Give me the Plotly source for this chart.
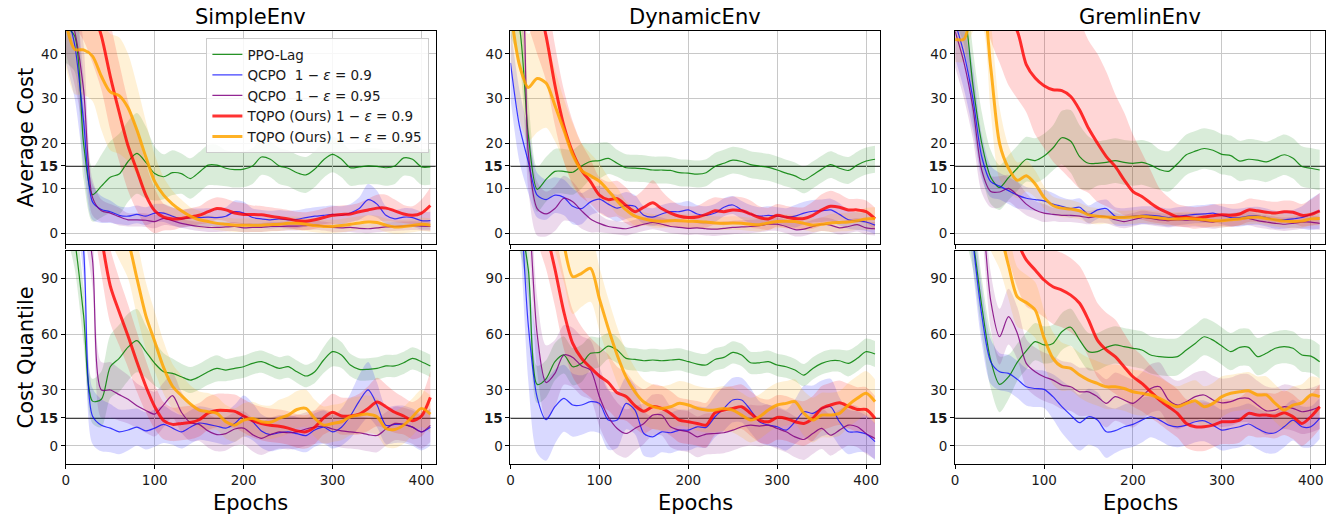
import plotly.graph_objects as go

# ---------------- data ----------------
EPOCHS = list(range(0, 411, 10))
SERIES_NAMES = [
    "PPO-Lag",
    "QCPO\u00a0\u00a01 − <i>ε</i> = 0.9",
    "QCPO\u00a0\u00a01 − <i>ε</i> = 0.95",
    "TQPO (Ours) 1 − <i>ε</i> = 0.9",
    "TQPO (Ours) 1 − <i>ε</i> = 0.95",
]
ENV_TITLES = ["SimpleEnv", "DynamicEnv", "GremlinEnv"]
ROW_TITLES = ["Average Cost", "Cost Quantile"]
THRESHOLD = 15
AVG_TICKS = [0, 10, 15, 20, 30, 40]
Q_TICKS = [0, 15, 30, 60, 90]
X_TICKS = [0, 100, 200, 300, 400]

# --- SimpleEnv, Average Cost ---
SIMPLE_AVG_PPO = [46, 44, 20, 8.6, 10.5, 12.5, 13.2, 16, 17.8, 15.8, 13.3, 12.6, 13.5, 13.3, 12.2, 13.6, 15.2, 15.2, 14.5, 14.2, 14.3, 15, 17, 16.5, 15, 14.5, 13.5, 13, 14.3, 16.4, 17.6, 16.5, 14.6, 14.8, 15, 14.9, 14.6, 15, 16.8, 16.5, 14.8, 14.8]
SIMPLE_AVG_Q90 = [50, 42, 25, 7, 5.3, 4.8, 4.0, 3.8, 4.2, 3.8, 4.5, 4.5, 3.8, 3.2, 3.5, 3.5, 3.6, 3.5, 3.8, 4.8, 4.5, 3.5, 3.2, 3.0, 3.2, 3.0, 3.1, 3.5, 3.8, 4.0, 4.2, 4.0, 4.5, 5.5, 7.5, 6.5, 4.0, 3.2, 3.6, 3.5, 2.8, 2.8]
SIMPLE_AVG_Q95 = [52, 45, 32, 8, 5.0, 4.5, 3.7, 3.0, 3.0, 2.9, 2.6, 3.3, 2.8, 2.2, 1.8, 1.5, 1.3, 1.3, 1.4, 1.5, 1.2, 1.3, 1.3, 1.5, 1.5, 1.6, 1.6, 1.7, 1.8, 1.6, 1.3, 1.2, 1.3, 1.1, 1.0, 1.2, 1.4, 1.5, 1.6, 1.7, 1.6, 1.5]
SIMPLE_AVG_T90 = [60, 58, 55, 50, 44, 35, 27, 19.5, 14, 8.5, 5, 3.6, 3.2, 3.3, 3.6, 4.0, 4.8, 5.5, 5.2, 4.5, 4.2, 4.2, 4.1, 3.8, 3.5, 3.2, 2.8, 2.7, 3.0, 3.5, 4.0, 4.2, 4.3, 4.8, 5.2, 5.6, 5.6, 5.0, 4.3, 4.0, 4.5, 6.2]
SIMPLE_AVG_T95 = [47, 41, 40.9, 39.5, 35, 31.5, 30.7, 28, 23, 17, 11.5, 8.5, 6.5, 5.0, 3.8, 3.0, 2.6, 2.2, 2.0, 1.8, 1.8, 1.8, 1.8, 1.9, 2.0, 2.2, 2.2, 2.0, 1.7, 1.5, 1.5, 1.7, 2.0, 2.3, 2.5, 2.4, 1.8, 1.4, 1.5, 1.7, 2.0, 1.8]
SIMPLE_AVG_PPO_SD = [8, 8, 8, 6, 7, 8, 9, 9, 9, 8, 6, 5, 5, 4.5, 4.5, 4.5, 4.5, 4.5, 4, 4, 4, 4, 4, 4, 4, 4, 4, 4, 4, 4, 4, 4, 4, 4, 4, 4, 4, 4, 4, 4, 4, 4]
SIMPLE_AVG_Q90_SD = [12, 12, 10, 4, 3, 2.5, 2, 2, 2, 2, 2, 2, 2, 2, 2, 2, 2, 2, 2, 2.5, 2.5, 2, 2, 2, 2, 2, 2, 2, 2, 2, 2, 2, 2, 2.5, 3.5, 3, 2, 2, 2, 2, 2, 2]
SIMPLE_AVG_Q95_SD = [12, 12, 10, 4, 2.5, 2, 2, 1.5, 1.5, 1.5, 1.5, 1.5, 1.2, 1, 1, 1, 1, 1, 1, 1, 1, 1, 1, 1, 1, 1, 1, 1, 1, 1, 1, 1, 1, 1, 1, 1, 1, 1, 1, 1, 1, 1]
SIMPLE_AVG_T90_SD = [12, 12, 12, 12, 12, 12, 11, 10, 9, 7, 5, 3, 2.5, 2, 2, 2, 2.5, 2.5, 2.5, 2.5, 2.5, 2, 2, 2, 2, 2, 2, 2, 2, 2, 2, 2, 2, 2, 2.5, 3, 3, 2.5, 2, 2, 3, 4]
SIMPLE_AVG_T95_SD = [10, 10, 10, 10, 12, 13, 13, 12, 10, 8, 6, 4, 3, 2.5, 2, 2, 1.5, 1.5, 1.5, 1.5, 1.5, 1.5, 1.5, 1.5, 1.5, 1.5, 1.5, 1.5, 1.5, 1.5, 1.5, 1.5, 1.5, 1.5, 1.5, 1.5, 1.5, 1.5, 1.5, 1.5, 1.5, 1.5]

# --- DynamicEnv, Average Cost ---
DYN_AVG_PPO = [52, 46, 22, 9.8, 12, 13.8, 13.8, 13.6, 15, 16, 16.2, 16.7, 15.6, 14.6, 14.5, 14.4, 14.1, 14.1, 14.0, 13.5, 13.4, 13.2, 13.5, 14.9, 15.6, 16.3, 16.0, 15.3, 15.0, 14.7, 14.1, 13.4, 12.8, 11.9, 13.0, 14.3, 15.3, 14.5, 14.0, 15.2, 16.1, 16.5]
DYN_AVG_Q90 = [38, 24, 16, 8.5, 7.5, 8.5, 8.0, 6, 5.5, 7, 7.6, 6.5, 5.6, 6.2, 6.0, 4.0, 3.6, 4.3, 4.8, 4.8, 5.2, 4.3, 4.0, 4.5, 5.8, 6.3, 5.2, 4.3, 3.8, 4.0, 3.8, 3.6, 3.8, 4.5, 4.9, 5.0, 5.2, 4.2, 3.0, 2.7, 2.5, 1.8]
DYN_AVG_Q95 = [60, 58, 18, 5.5, 4.3, 5.5, 7.8, 7.0, 5.0, 3.2, 2.2, 1.5, 1.2, 1.0, 1.5, 2.0, 2.4, 2.0, 1.5, 1.3, 1.1, 1.2, 1.0, 0.9, 1.1, 1.3, 1.4, 1.5, 1.7, 2.0, 2.0, 1.5, 0.8, 0.9, 1.5, 2.0, 1.8, 1.2, 1.5, 1.9, 1.2, 1.0]
DYN_AVG_T90 = [65, 62, 58, 52, 44, 33, 24, 18, 14, 11.5, 8.5, 7.5, 7.7, 6.2, 4.8, 5.8, 6.8, 5.5, 4.5, 3.8, 3.5, 3.6, 4.2, 5.0, 4.8, 5.2, 5.0, 4.3, 3.5, 3.2, 4.0, 3.6, 3.3, 3.3, 4.0, 5.2, 6.0, 5.8, 5.2, 5.2, 4.8, 3.2]
DYN_AVG_T95 = [50, 37.6, 32.5, 34.5, 33.5, 28.5, 23, 17.5, 14, 12.8, 11.6, 9.5, 7.2, 5.2, 3.8, 3.2, 2.8, 2.7, 2.8, 2.8, 2.7, 2.6, 2.5, 2.3, 2.2, 2.3, 2.2, 2.0, 1.9, 2.3, 2.6, 2.7, 2.6, 2.2, 1.8, 2.0, 2.3, 2.4, 2.5, 2.8, 3.2, 3.3]
DYN_AVG_PPO_SD = [8, 8, 8, 5, 5, 5, 5, 5, 5, 4, 4, 3.5, 3, 3, 3, 3, 3, 3, 3, 3, 3, 3, 3, 3, 3, 3, 3, 3, 3, 3, 3, 3, 3, 3, 3, 3, 3, 3, 3, 3, 3, 3]
DYN_AVG_Q90_SD = [8, 8, 7, 5, 4.5, 4, 4, 4, 3.5, 3, 3, 3, 3, 3, 2.5, 2, 2, 2, 2, 2, 2, 2, 2, 2, 2, 2, 2, 2, 2, 2, 2, 2, 2.5, 2.5, 2.5, 2.5, 2.5, 2.5, 2, 2, 2, 2]
DYN_AVG_Q95_SD = [10, 10, 8, 6, 5, 5, 5, 4.5, 4, 3, 2, 1.5, 1.5, 1.5, 1.5, 1.5, 1.5, 1.5, 1.5, 1.5, 1.5, 1.5, 1.5, 1.5, 1.5, 1.5, 1.5, 1.5, 1.5, 1.5, 1.5, 1.5, 1.5, 1.5, 1.5, 1.5, 1.5, 1.5, 1.5, 1.5, 1.5, 1.5]
DYN_AVG_T90_SD = [12, 12, 12, 12, 10, 9, 8, 7, 6, 5, 4, 4, 4, 4, 3.5, 4, 5, 4, 3, 2.5, 2.5, 2.5, 3, 3, 3, 3, 3, 3, 2.5, 2.5, 2.5, 2.5, 2.5, 2.5, 3, 3.5, 3.5, 3, 2.5, 2.5, 2.5, 2.5]
DYN_AVG_T95_SD = [12, 12, 12, 12, 10, 8, 7, 7, 6, 5, 4, 3, 3, 2, 2, 1.5, 1.5, 1.5, 1.5, 1.5, 1.5, 1.5, 1.5, 1.5, 1.5, 1.5, 1.5, 1.5, 1.5, 1.5, 1.5, 1.5, 1.5, 1.5, 1.5, 1.5, 2, 2, 2, 2, 2.5, 2.5]

# --- GremlinEnv, Average Cost ---
GREM_AVG_PPO = [55, 50, 33, 20, 12.5, 10.2, 12.4, 14.5, 16.5, 16.2, 17.2, 19, 21.3, 20.5, 17.1, 15.6, 15.6, 15.8, 16.2, 15.8, 15.6, 15.8, 15.2, 14.2, 13.8, 15.5, 17.5, 18.3, 18.9, 18.5, 17.6, 17.3, 16.1, 16.5, 16.3, 15.9, 16.7, 17.5, 16.7, 14.9, 14.5, 14.1]
GREM_AVG_Q90 = [47, 40, 30, 17, 11.5, 10.5, 9.5, 8.5, 7.8, 7.5, 7.2, 6.5, 6.0, 5.5, 5.8, 4.2, 5.2, 5.5, 3.8, 3.6, 3.8, 4.0, 4.0, 3.8, 3.5, 3.8, 4.0, 4.2, 4.3, 4.5, 4.0, 3.5, 3.5, 3.8, 3.9, 3.5, 3.0, 3.0, 3.2, 3.5, 4.2, 5.0]
GREM_AVG_Q95 = [45, 38, 28, 14, 9.3, 9.2, 10, 8.5, 6.5, 5.2, 4.5, 4.2, 4.0, 4.0, 3.8, 3.5, 3.8, 3.7, 3.0, 2.6, 3.0, 3.5, 3.3, 3.0, 2.8, 3.0, 2.9, 3.0, 2.7, 2.5, 2.8, 3.0, 3.2, 3.3, 2.8, 2.5, 2.2, 2.0, 2.2, 2.5, 2.5, 2.2]
GREM_AVG_T90 = [80, 75, 70, 65, 58, 53, 48, 45, 37.6, 34.6, 32.9, 32, 31.8, 30.5, 27.5, 23.4, 20.1, 17.1, 14.9, 11.9, 9.3, 8.2, 6.7, 5.4, 4.5, 3.6, 3.6, 3.3, 3.6, 3.9, 4.1, 4.0, 4.3, 5.2, 5.0, 4.7, 4.5, 4.8, 4.7, 4.0, 4.2, 5.0]
GREM_AVG_T95 = [43.2, 43.3, 50, 52, 37, 20, 14.5, 11.8, 12.8, 11, 8, 6.2, 5.6, 5.4, 5.0, 4.1, 3.8, 3.6, 3.5, 3.5, 3.6, 3.8, 3.6, 3.4, 3.2, 3.2, 3.3, 3.2, 3.0, 2.8, 2.8, 3.0, 3.2, 3.5, 3.6, 3.3, 3.0, 2.7, 2.6, 2.7, 3.2, 3.3]
GREM_AVG_PPO_SD = [8, 8, 8, 7, 6, 5, 5, 5, 5, 5, 5, 5, 6, 7, 7, 6, 5, 5, 5, 5, 5, 5, 5, 4.5, 4.5, 4.5, 4.5, 4.5, 4.5, 4.5, 4.5, 4.5, 4.5, 4.5, 4.5, 4.5, 4.5, 4.5, 4.5, 4.5, 4.5, 4.5]
GREM_AVG_Q90_SD = [8, 8, 7, 5, 3.5, 3, 3, 3, 2.5, 2.5, 2.5, 2.5, 2, 2, 2, 2, 2, 2, 2, 2, 2, 2, 2, 2, 2, 2, 2, 2, 2, 2, 2, 2, 2, 2, 2, 2, 2, 2, 2, 2.5, 3.5, 4]
GREM_AVG_Q95_SD = [8, 8, 7, 5, 3.5, 3.5, 3, 3, 2.5, 2, 2, 1.5, 1.5, 1.5, 1.5, 1.5, 1.5, 1.5, 1.5, 1.5, 1.5, 1.5, 1.5, 1.5, 1.5, 1.5, 1.5, 1.5, 1.5, 1.5, 1.5, 1.5, 1.5, 1.5, 1.5, 1.5, 1.5, 1.5, 1.5, 1.5, 1.5, 1.5]
# this band is strongly asymmetric, so its lower and upper edges are given directly
GREM_AVG_T90_LO = [65, 60, 55, 50, 43, 38, 33, 30, 27, 22, 19, 16, 14, 12, 10, 9, 7, 6, 5, 4, 3.5, 3, 2.5, 2.2, 2, 1.5, 1.3, 1.0, 1.2, 1.5, 1.6, 1.5, 1.8, 2.5, 2.5, 2.2, 2, 2.3, 2.2, 1.5, 1.7, 2]
GREM_AVG_T90_HI = [95, 90, 85, 80, 75, 70, 65, 60, 55, 52, 50, 50, 49, 48, 47, 43, 40, 36, 31, 27, 22, 18, 14, 10, 8, 6.5, 6, 5.8, 6, 6.4, 6.6, 6.5, 6.8, 7.7, 7.5, 7.2, 7, 7.3, 7.2, 6.5, 7.5, 9]
GREM_AVG_T95_SD = [5, 5, 5, 6, 10, 8, 5, 4, 3.5, 3, 2.5, 2, 2, 2, 1.8, 1.8, 1.8, 1.5, 1.5, 1.5, 1.5, 1.5, 1.5, 1.5, 1.5, 1.5, 1.5, 1.5, 1.5, 1.5, 1.5, 1.5, 1.5, 1.5, 1.5, 1.5, 1.5, 1.5, 1.5, 1.5, 1.5, 1.5]

# --- SimpleEnv, Cost Quantile ---
SIMPLE_Q_PPO = [130, 110, 70, 24, 25, 42.5, 47, 53, 56.5, 50.6, 44.3, 39.8, 38.9, 37.1, 35.3, 37.1, 39.8, 41.6, 40.7, 41.6, 42.5, 44.3, 45.2, 43.4, 41.6, 42.5, 39.8, 37.5, 39.8, 46.1, 50.6, 48.8, 43.4, 41.1, 41.1, 41.6, 42.9, 42.9, 44.6, 47, 45.2, 42.9]
SIMPLE_Q_Q90 = [150, 140, 105, 16, 11, 9.5, 7.5, 8.5, 10, 8.0, 9.5, 11.5, 9.5, 7.5, 10, 12.2, 11.5, 10.5, 9.5, 12, 16, 13, 8, 6, 7.0, 7.5, 6.5, 5.5, 8.5, 10, 7.5, 10, 16, 24, 30, 22, 11, 11.5, 11.5, 10, 7.5, 10]
SIMPLE_Q_Q95 = [160, 150, 130, 100, 30, 30, 27.5, 25, 21.5, 19, 17, 22, 27, 18, 12.5, 11.5, 8, 6, 6.5, 9, 9.5, 6, 4, 6, 7.5, 7, 7.5, 9, 10, 10.5, 9, 8, 7.5, 7, 6, 5.5, 9, 12, 11.5, 10, 7.5, 11]
SIMPLE_Q_T90 = [200, 180, 160, 140, 112, 86, 72, 59, 45, 32, 21, 13.5, 11.5, 12, 12.5, 14, 17.5, 19, 19, 18.5, 16, 13.5, 12, 11, 10.5, 9.5, 8, 7.5, 10, 15, 18, 16, 16, 17, 20, 23.5, 21, 18, 16, 13.5, 16, 26]
SIMPLE_Q_T95 = [220, 200, 180, 160, 140, 130, 120, 110, 90, 70, 56, 42, 32, 27, 22.5, 19.2, 18.3, 17.4, 12.9, 11.1, 13.8, 14.7, 12.9, 12.6, 14.7, 16.5, 19.5, 20.1, 14.7, 11.1, 12, 12.9, 15.6, 16.5, 17, 15.6, 9.3, 8.8, 11.1, 15.6, 20.1, 17]
SIMPLE_Q_PPO_SD = [15, 15, 15, 12, 15, 17, 18, 18, 17, 14, 12, 10, 8, 7, 7, 7, 7, 7, 6, 6, 6, 6, 6, 6, 6, 6, 6, 6, 6, 7, 8, 7, 6, 6, 6, 6, 6, 6, 6, 6, 6, 6]
SIMPLE_Q_Q90_SD = [15, 15, 15, 15, 14, 13, 12, 11, 10, 10, 10, 10, 9, 9, 9, 9, 9, 9, 9, 10, 11, 10, 9, 9, 9, 9, 9, 9, 9, 9, 9, 10, 12, 14, 15, 12, 10, 10, 10, 10, 10, 10]
SIMPLE_Q_Q95_SD = [15, 15, 15, 15, 15, 15, 14, 13, 12, 12, 12, 12, 12, 11, 10, 9, 9, 9, 9, 9, 9, 9, 9, 9, 9, 9, 9, 9, 9, 9, 9, 9, 9, 9, 9, 9, 9, 9, 9, 9, 9, 9]
SIMPLE_Q_T90_SD = [20, 20, 20, 20, 20, 20, 18, 17, 16, 14, 12, 10, 9, 9, 9, 9, 9, 9, 9, 9, 9, 9, 9, 9, 9, 9, 9, 9, 9, 9, 10, 10, 10, 11, 12, 13, 12, 11, 10, 10, 11, 14]
SIMPLE_Q_T95_SD = [20, 20, 20, 20, 20, 20, 20, 20, 20, 18, 16, 14, 12, 11, 10, 10, 10, 9, 9, 9, 9, 9, 9, 9, 10, 10, 10, 10, 10, 10, 10, 10, 10, 10, 10, 10, 10, 10, 10, 10, 10, 10]

# --- DynamicEnv, Cost Quantile ---
DYN_Q_PPO = [130, 120, 95, 33, 36, 45.2, 48.8, 42.5, 44.3, 49.7, 50.2, 53.6, 51.5, 47, 46.4, 45.7, 46.1, 45.7, 46.1, 46.4, 45.2, 43.9, 43.4, 46.4, 47.5, 50.2, 48.8, 44.6, 44.6, 45.2, 43.4, 42.5, 40.7, 38, 41.6, 44.3, 45.7, 45.7, 44.3, 47, 50.6, 49.3]
DYN_Q_Q90 = [180, 140, 65, 26, 14, 21, 25.5, 21.9, 21.9, 23.7, 22.8, 13.8, 13.8, 22.8, 19.2, 6.6, 4.8, 7.5, 7.0, 8.4, 8.4, 10.2, 9.9, 15.6, 20.1, 24.6, 24.6, 19.2, 12.9, 11.1, 10.2, 8.4, 12.9, 18.3, 17.4, 20.1, 21, 12.9, 7.5, 7.5, 6.3, 2.2]
DYN_Q_Q95 = [180, 160, 130, 60, 34, 38.9, 48.8, 47.5, 42.9, 40.7, 26.4, 15.6, 9.3, 6.6, 9.3, 12, 16.5, 16.5, 10.2, 8.4, 7.5, 4.8, 6.3, 6.6, 7.0, 8.4, 10.2, 11.1, 10.6, 11.1, 9.3, 7.5, 4.8, 3.4, 6.6, 9.3, 5.7, 8.4, 11.1, 10.2, 6.6, 3.9]
DYN_Q_T90 = [220, 180, 150, 130, 115, 95, 72, 55, 47, 42, 37.5, 34, 28.5, 26.5, 21.5, 18.5, 21, 20.1, 17.4, 13.8, 12.9, 12, 11.1, 17.8, 19.2, 20.1, 21, 17.4, 13.8, 12.9, 15.2, 14.7, 12.9, 12, 14.7, 20.1, 21.9, 23.1, 21.3, 19.5, 19.5, 14.7]
DYN_Q_T95 = [230, 200, 180, 160, 140, 125, 108, 90.9, 92.7, 95.4, 79, 63.1, 48.8, 37, 29, 23.5, 21, 20.1, 21, 22.8, 21.9, 20.1, 19.2, 19.2, 20.1, 19.2, 16.5, 13.8, 15.6, 19.2, 21.9, 22.8, 23.7, 17.4, 13.8, 16.5, 16.5, 17.4, 21.9, 25.5, 28.2, 23.7]
DYN_Q_PPO_SD = [15, 15, 15, 10, 10, 10, 10, 10, 10, 9, 8, 7, 7, 6, 6, 6, 6, 6, 6, 6, 6, 6, 6, 6, 6, 6, 6, 6, 6, 6, 6, 6, 6, 6, 6, 6, 6, 6, 7, 7, 7, 7]
DYN_Q_Q90_SD = [25, 25, 30, 30, 22, 20, 18, 17, 16, 16, 16, 16, 15, 14, 13, 12, 11, 11, 11, 11, 11, 11, 11, 11, 12, 12, 12, 12, 11, 11, 11, 11, 12, 14, 15, 15, 15, 13, 12, 11, 10, 10]
DYN_Q_Q95_SD = [20, 20, 20, 20, 20, 18, 16, 16, 16, 16, 16, 15, 14, 13, 12, 11, 11, 11, 11, 11, 11, 11, 11, 11, 11, 11, 11, 11, 11, 11, 11, 11, 11, 11, 11, 11, 11, 11, 11, 11, 11, 11]
DYN_Q_T90_SD = [20, 20, 20, 20, 20, 20, 20, 18, 17, 16, 16, 15, 14, 13, 12, 12, 12, 12, 12, 12, 12, 12, 12, 12, 12, 12, 12, 12, 12, 12, 12, 12, 12, 12, 12, 12, 12, 12, 12, 12, 12, 12]
DYN_Q_T95_SD = [20, 20, 20, 20, 20, 20, 20, 20, 18, 18, 17, 16, 15, 14, 13, 12, 12, 12, 12, 12, 12, 12, 12, 12, 12, 12, 12, 12, 12, 12, 12, 12, 12, 12, 12, 12, 12, 12, 12, 12, 12, 12]

# --- GremlinEnv, Cost Quantile ---
GREM_Q_PPO = [160, 130, 110, 75, 46, 33, 37, 45, 51, 56, 54.2, 55, 61.3, 63.7, 56.8, 50.6, 50.6, 52.9, 54.2, 53.3, 52.4, 51.5, 48.8, 47.9, 47.5, 47.9, 51.5, 55, 58.6, 56.8, 53.6, 50.6, 52.9, 52.9, 47.9, 49.7, 52.4, 53.3, 52.4, 48.8, 48.2, 45.2]
GREM_Q_Q90 = [200, 160, 110, 70, 45.2, 39.8, 38.9, 35.7, 31.7, 30.8, 30.3, 26.4, 21, 16.5, 12.4, 15.6, 13.8, 7.5, 8.1, 10.2, 11.5, 13.8, 15.6, 13.8, 11.1, 10.2, 11.1, 12.9, 13.4, 11.1, 8.4, 9.3, 10.2, 11.7, 9.3, 7.0, 7.0, 10.2, 13.8, 10.2, 10.2, 14.7]
GREM_Q_Q95 = [220, 200, 160, 130, 78, 58.6, 69.4, 60.4, 44.3, 39.8, 37.1, 35.3, 32.6, 31.7, 29, 29, 26.4, 22.8, 26.4, 24.6, 22.8, 26.4, 30.8, 31.7, 24.6, 21.9, 23.7, 26.4, 27.3, 24.6, 23.1, 23.7, 25.5, 25.5, 21.9, 18.8, 19.2, 21, 20.1, 18.3, 19.2, 21]
GREM_Q_T90 = [250, 220, 200, 180, 160, 140, 125, 110, 99.9, 94.5, 89.1, 85.5, 83.7, 81, 76.6, 67.6, 56.8, 51.5, 47.9, 42.5, 37.1, 33.5, 29, 24.6, 21, 17.4, 12, 10.2, 10.2, 11.1, 12.9, 12.9, 13.8, 17.4, 16.5, 16.5, 16, 17.8, 15.6, 12, 15.6, 21]
GREM_Q_T95 = [200, 180, 160, 140, 125, 115, 97, 80, 77, 73, 58, 47, 42.5, 41.6, 38, 35.3, 33.5, 31.7, 31.7, 30.8, 29, 28.2, 27.3, 25.5, 22.8, 21, 22.8, 24.2, 21, 22.8, 26.4, 28.2, 29, 29.6, 27.3, 27.3, 22.8, 19.2, 21.9, 23.1, 27.3, 26.4]
GREM_Q_PPO_SD = [15, 15, 15, 15, 15, 15, 12, 10, 10, 10, 10, 10, 10, 10, 10, 10, 10, 10, 10, 10, 10, 10, 10, 10, 10, 10, 10, 10, 10, 10, 10, 10, 10, 10, 10, 10, 9, 9, 9, 9, 9, 9]
GREM_Q_Q90_SD = [15, 15, 15, 15, 12, 10, 10, 10, 10, 10, 10, 12, 14, 15, 15, 15, 15, 14, 12, 12, 12, 12, 11, 11, 11, 11, 11, 11, 11, 11, 11, 11, 11, 11, 11, 11, 11, 11, 11, 11, 11, 11]
GREM_Q_Q95_SD = [15, 15, 15, 15, 15, 15, 15, 14, 13, 13, 13, 13, 13, 13, 13, 13, 13, 13, 13, 13, 13, 13, 13, 13, 13, 13, 13, 13, 13, 13, 13, 13, 13, 13, 13, 13, 12, 12, 12, 12, 12, 12]
GREM_Q_T90_SD = [25, 25, 25, 25, 25, 25, 25, 25, 25, 22, 20, 20, 20, 20, 20, 20, 20, 20, 20, 18, 16, 15, 14, 13, 13, 13, 13, 13, 13, 12, 12, 12, 12, 12, 12, 12, 12, 12, 12, 12, 12, 12]
GREM_Q_T95_SD = [20, 20, 20, 20, 20, 20, 18, 16, 15, 15, 15, 14, 13, 12, 12, 12, 12, 12, 12, 12, 12, 12, 11, 11, 11, 11, 11, 11, 11, 11, 11, 10, 10, 10, 10, 10, 10, 10, 10, 10, 10, 10]

PANELS = [
    ([SIMPLE_AVG_PPO, SIMPLE_AVG_Q90, SIMPLE_AVG_Q95, SIMPLE_AVG_T90, SIMPLE_AVG_T95],
     [SIMPLE_AVG_PPO_SD, SIMPLE_AVG_Q90_SD, SIMPLE_AVG_Q95_SD, SIMPLE_AVG_T90_SD, SIMPLE_AVG_T95_SD]),
    ([DYN_AVG_PPO, DYN_AVG_Q90, DYN_AVG_Q95, DYN_AVG_T90, DYN_AVG_T95],
     [DYN_AVG_PPO_SD, DYN_AVG_Q90_SD, DYN_AVG_Q95_SD, DYN_AVG_T90_SD, DYN_AVG_T95_SD]),
    ([GREM_AVG_PPO, GREM_AVG_Q90, GREM_AVG_Q95, GREM_AVG_T90, GREM_AVG_T95],
     [GREM_AVG_PPO_SD, GREM_AVG_Q90_SD, GREM_AVG_Q95_SD, (GREM_AVG_T90_LO, GREM_AVG_T90_HI), GREM_AVG_T95_SD]),
    ([SIMPLE_Q_PPO, SIMPLE_Q_Q90, SIMPLE_Q_Q95, SIMPLE_Q_T90, SIMPLE_Q_T95],
     [SIMPLE_Q_PPO_SD, SIMPLE_Q_Q90_SD, SIMPLE_Q_Q95_SD, SIMPLE_Q_T90_SD, SIMPLE_Q_T95_SD]),
    ([DYN_Q_PPO, DYN_Q_Q90, DYN_Q_Q95, DYN_Q_T90, DYN_Q_T95],
     [DYN_Q_PPO_SD, DYN_Q_Q90_SD, DYN_Q_Q95_SD, DYN_Q_T90_SD, DYN_Q_T95_SD]),
    ([GREM_Q_PPO, GREM_Q_Q90, GREM_Q_Q95, GREM_Q_T90, GREM_Q_T95],
     [GREM_Q_PPO_SD, GREM_Q_Q90_SD, GREM_Q_Q95_SD, GREM_Q_T90_SD, GREM_Q_T95_SD]),
]

# ---------------- style ----------------
W, H = 1336, 517
FONT = "DejaVu Sans"
LINE_COLORS = ["rgba(0,128,0,0.85)", "rgba(0,0,255,0.75)", "rgba(128,0,128,0.85)",
               "rgba(255,0,0,0.8)", "rgba(255,165,0,0.85)"]
FILL_COLORS = ["rgba(0,128,0,0.15)", "rgba(0,0,255,0.15)", "rgba(128,0,128,0.15)",
               "rgba(255,0,0,0.16)", "rgba(255,165,0,0.16)"]
LINE_WIDTHS = [1.2, 1.2, 1.2, 3.0, 3.0]
COL_PX = [(62, 433), (508, 879), (954, 1325)]
ROW_PX = [(31, 244), (251, 464)]
X_RANGE = [0, 416]
Y_RANGES = [[-2.4, 45.1], [-9.8, 104.7]]
TICK_FONT = dict(family=FONT, size=13.5, color="#1a1a1a")
TITLE_FONT = dict(family=FONT, size=21, color="black")

fig = go.Figure()
layout = dict(
    width=W, height=H, margin=dict(l=0, r=0, t=0, b=0),
    paper_bgcolor="white", plot_bgcolor="white",
    font=dict(family=FONT, size=13, color="#1a1a1a"),
    showlegend=True,
    legend=dict(x=203 / W, y=1 - 38 / H, xanchor="left", yanchor="top",
                bgcolor="rgba(255,255,255,0.85)", bordercolor="#cccccc", borderwidth=1,
                font=dict(family=FONT, size=13.5, color="#1a1a1a"), tracegroupgap=0,
                itemwidth=30),
    shapes=[], annotations=[],
)

for i, (means, bands) in enumerate(PANELS):
    r, c = divmod(i, 3)
    xa = "x" if i == 0 else f"x{i+1}"
    ya = "y" if i == 0 else f"y{i+1}"
    xkey = "xaxis" if i == 0 else f"xaxis{i+1}"
    ykey = "yaxis" if i == 0 else f"yaxis{i+1}"
    # shaded bands
    for s in range(5):
        if isinstance(bands[s], tuple):
            lower, upper = bands[s]
        else:
            upper = [m + b for m, b in zip(means[s], bands[s])]
            lower = [m - b for m, b in zip(means[s], bands[s])]
        fig.add_trace(go.Scatter(x=EPOCHS, y=upper, xaxis=xa, yaxis=ya, mode="lines",
                                 line=dict(width=0, shape="spline", smoothing=0.8),
                                 showlegend=False, hoverinfo="skip"))
        fig.add_trace(go.Scatter(x=EPOCHS, y=lower, xaxis=xa, yaxis=ya, mode="lines",
                                 line=dict(width=0, shape="spline", smoothing=0.8),
                                 fill="tonexty", fillcolor=FILL_COLORS[s],
                                 showlegend=False, hoverinfo="skip"))
    # mean lines
    for s in range(5):
        fig.add_trace(go.Scatter(x=EPOCHS, y=means[s], xaxis=xa, yaxis=ya, mode="lines",
                                 name=SERIES_NAMES[s], legendgroup=str(s),
                                 line=dict(color=LINE_COLORS[s], width=LINE_WIDTHS[s],
                                           shape="spline", smoothing=0.8),
                                 showlegend=(i == 0)))
    x0, x1 = COL_PX[c]
    y0, y1 = ROW_PX[r]
    ticks = AVG_TICKS if r == 0 else Q_TICKS
    layout[xkey] = dict(domain=[x0 / W, x1 / W], range=X_RANGE, anchor=ya,
                        tickvals=X_TICKS, showticklabels=(r == 1),
                        ticks="outside", ticklen=4, tickcolor="black",
                        showgrid=True, gridcolor="#c8c8c8", gridwidth=1,
                        zeroline=False, showline=True, mirror=True,
                        linecolor="black", linewidth=1, tickfont=TICK_FONT)
    layout[ykey] = dict(domain=[1 - y1 / H, 1 - y0 / H], range=Y_RANGES[r], anchor=xa,
                        tickvals=ticks,
                        ticktext=[f"<b>{t}</b>" if t == THRESHOLD else str(t) for t in ticks],
                        ticks="outside", ticklen=4, tickcolor="black",
                        showgrid=True, gridcolor="#c8c8c8", gridwidth=1,
                        zeroline=False, showline=True, mirror=True,
                        linecolor="black", linewidth=1, tickfont=TICK_FONT)
    layout["shapes"].append(dict(type="line", xref=f"{xa} domain", yref=ya,
                                 x0=0, x1=1, y0=THRESHOLD, y1=THRESHOLD,
                                 line=dict(color="black", width=1.6), layer="below"))

for c in range(3):
    xc = (COL_PX[c][0] + COL_PX[c][1]) / 2 / W
    layout["annotations"].append(dict(text=ENV_TITLES[c], x=xc, y=1 - 17 / H,
                                      xref="paper", yref="paper", showarrow=False,
                                      xanchor="center", yanchor="middle", font=TITLE_FONT))
    layout["annotations"].append(dict(text="Epochs", x=xc, y=1 - 503 / H,
                                      xref="paper", yref="paper", showarrow=False,
                                      xanchor="center", yanchor="middle", font=TITLE_FONT))
for r in range(2):
    yc = 1 - (ROW_PX[r][0] + ROW_PX[r][1]) / 2 / H
    layout["annotations"].append(dict(text=ROW_TITLES[r], x=22 / W, y=yc,
                                      xref="paper", yref="paper", showarrow=False,
                                      textangle=-90, xanchor="center", yanchor="middle",
                                      font=TITLE_FONT))

fig.update_layout(**layout)
fig.write_html("out.html", config={"displayModeBar": False},
               post_script="document.body.style.margin='0';")
